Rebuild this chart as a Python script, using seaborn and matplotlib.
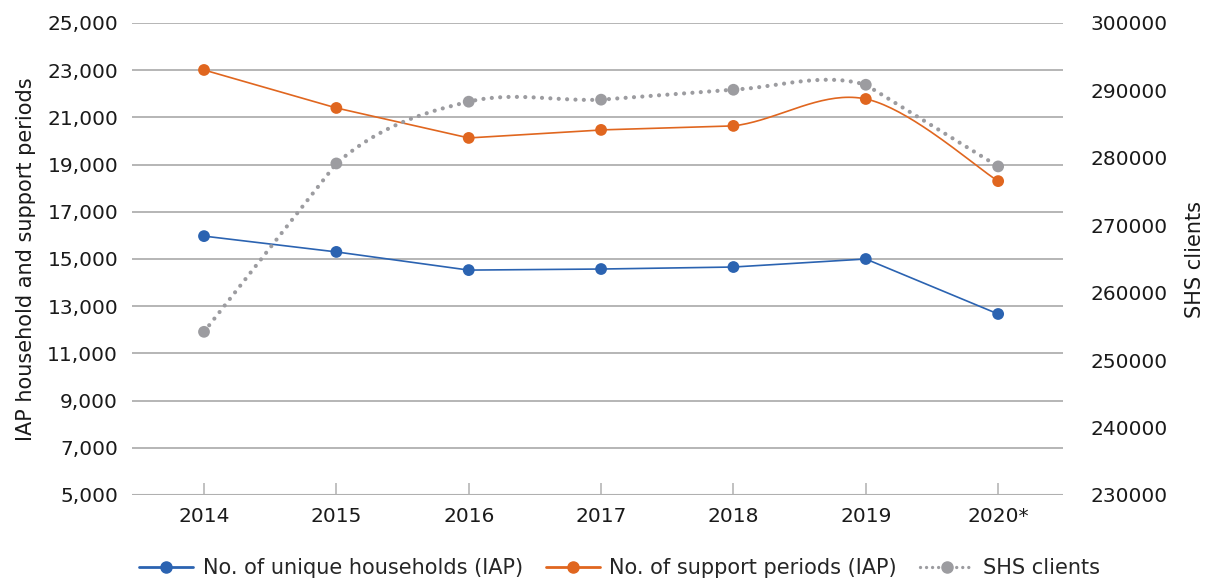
import numpy as np
import pandas as pd
import matplotlib
matplotlib.use("Agg")
import matplotlib.pyplot as plt
from matplotlib.lines import Line2D
import seaborn as sns

years = ["2014", "2015", "2016", "2017", "2018", "2019", "2020*"]
households = [15970, 15300, 14530, 14575, 14660, 15000, 12670]
support_periods = [23010, 21400, 20130, 20470, 20640, 21780, 18300]
shs_clients = [254200, 279170, 288330, 288630, 290100, 290840, 278730]

left_ticks = list(range(5000, 25001, 2000))
right_ticks = list(range(230000, 300001, 10000))

BLUE = "#2b63b1"
ORANGE = "#e0661f"
GREY = "#9c9ca0"
GRID = "#b0b0b0"
TXT = "#1a1a1a"

sns.set_theme(style="white")
plt.rcParams["font.family"] = ["DejaVu Sans"]
FS = 14.5


def smooth(xs, ys, smooth_segments, n=40):
    """Piecewise path: Catmull-Rom Bezier on chosen segments, straight elsewhere."""
    P = np.column_stack([np.asarray(xs, float), np.asarray(ys, float)])
    m = len(P)
    out = []
    for i in range(m - 1):
        p1, p2 = P[i], P[i + 1]
        t = np.linspace(0, 1, n)[:, None]
        if i in smooth_segments:
            p0 = P[i - 1] if i > 0 else P[i]
            p3 = P[i + 2] if i + 2 < m else P[i + 1]
            c1 = p1 + (p2 - p0) / 6.0
            c2 = p2 - (p3 - p1) / 6.0
            seg = ((1 - t) ** 3) * p1 + 3 * ((1 - t) ** 2) * t * c1 \
                + 3 * (1 - t) * t ** 2 * c2 + t ** 3 * p2
        else:
            seg = (1 - t) * p1 + t * p2
        out.append(seg if i == 0 else seg[1:])
    arr = np.vstack(out)
    return arr[:, 0], arr[:, 1]


x = np.arange(len(years))
df = pd.DataFrame({"x": x, "year": years, "households": households,
                   "support": support_periods, "shs": shs_clients})

fig = plt.figure(figsize=(12.06, 5.79), dpi=100)
ax = fig.add_axes([132 / 1206, 1 - 495 / 579, (1063 - 132) / 1206, (495 - 23) / 579])
ax2 = ax.twinx()

MS = 72
# left axis series
ax.plot(x, households, color=BLUE, lw=1.2, zorder=3)
sx, sy = smooth(x, support_periods, {4, 5})
ax.plot(sx, sy, color=ORANGE, lw=1.2, zorder=3)
sns.scatterplot(data=df, x="x", y="households", ax=ax, color=BLUE, s=MS,
                edgecolor="none", zorder=4, legend=False)
sns.scatterplot(data=df, x="x", y="support", ax=ax, color=ORANGE, s=MS,
                edgecolor="none", zorder=4, legend=False)

# right axis series
gx, gy = smooth(x, shs_clients, {1, 2, 4})
ax2.plot(gx, gy, color=GREY, lw=3.0, linestyle=(0, (0.01, 2.0)),
         dash_capstyle="round", solid_capstyle="round", zorder=3)
sns.scatterplot(data=df, x="x", y="shs", ax=ax2, color=GREY, s=MS,
                edgecolor="none", zorder=4, legend=False)

ax.set_xlim(-0.544, 6.49)
ax.set_ylim(5000, 25000)
ax2.set_ylim(230000, 300000)

ax.set_yticks(left_ticks)
ax.set_yticklabels([f"{v:,}" for v in left_ticks], fontsize=FS, color=TXT)
ax2.set_yticks(right_ticks)
ax2.set_yticklabels([str(v) for v in right_ticks], fontsize=FS, color=TXT)
ax.set_xticks(x)
ax.set_xticklabels(years, fontsize=FS, color=TXT)

ax.grid(axis="y", color=GRID, lw=1.3)
ax.grid(axis="x", visible=False)
ax2.grid(False)
ax.set_axisbelow(True)

for a in (ax, ax2):
    for s in ("top", "right", "left", "bottom"):
        a.spines[s].set_visible(False)

ax.axhline(5000, color=GRID, lw=1.5, zorder=2)
ax.tick_params(axis="x", direction="in", length=9, width=1.1, color=GRID, pad=9,
               bottom=True)
ax.tick_params(axis="y", length=0, pad=10, left=False)
ax2.tick_params(axis="y", length=0, pad=19.5, right=False)

ax.set_xlabel("")
ax.set_ylabel("IAP household and support periods", fontsize=15, color=TXT, labelpad=8)
ax2.set_ylabel("SHS clients", fontsize=15, color=TXT, labelpad=13)

handles = [
    Line2D([0], [0], color=BLUE, lw=2, marker="o", markersize=8),
    Line2D([0], [0], color=ORANGE, lw=2, marker="o", markersize=8),
    Line2D([0], [0], color=GREY, lw=2.4, linestyle=(0, (0.01, 1.8)),
           dash_capstyle="round", marker="o", markersize=8),
]
labels = ["No. of unique households (IAP)", "No. of support periods (IAP)", "SHS clients"]
fig.legend(handles, labels, loc="center", bbox_to_anchor=(0.514, 1 - 568 / 579),
           ncol=3, frameon=False, fontsize=15, handlelength=2.6, columnspacing=1.1,
           handletextpad=0.45)

fig.savefig("out.png", dpi=100)
